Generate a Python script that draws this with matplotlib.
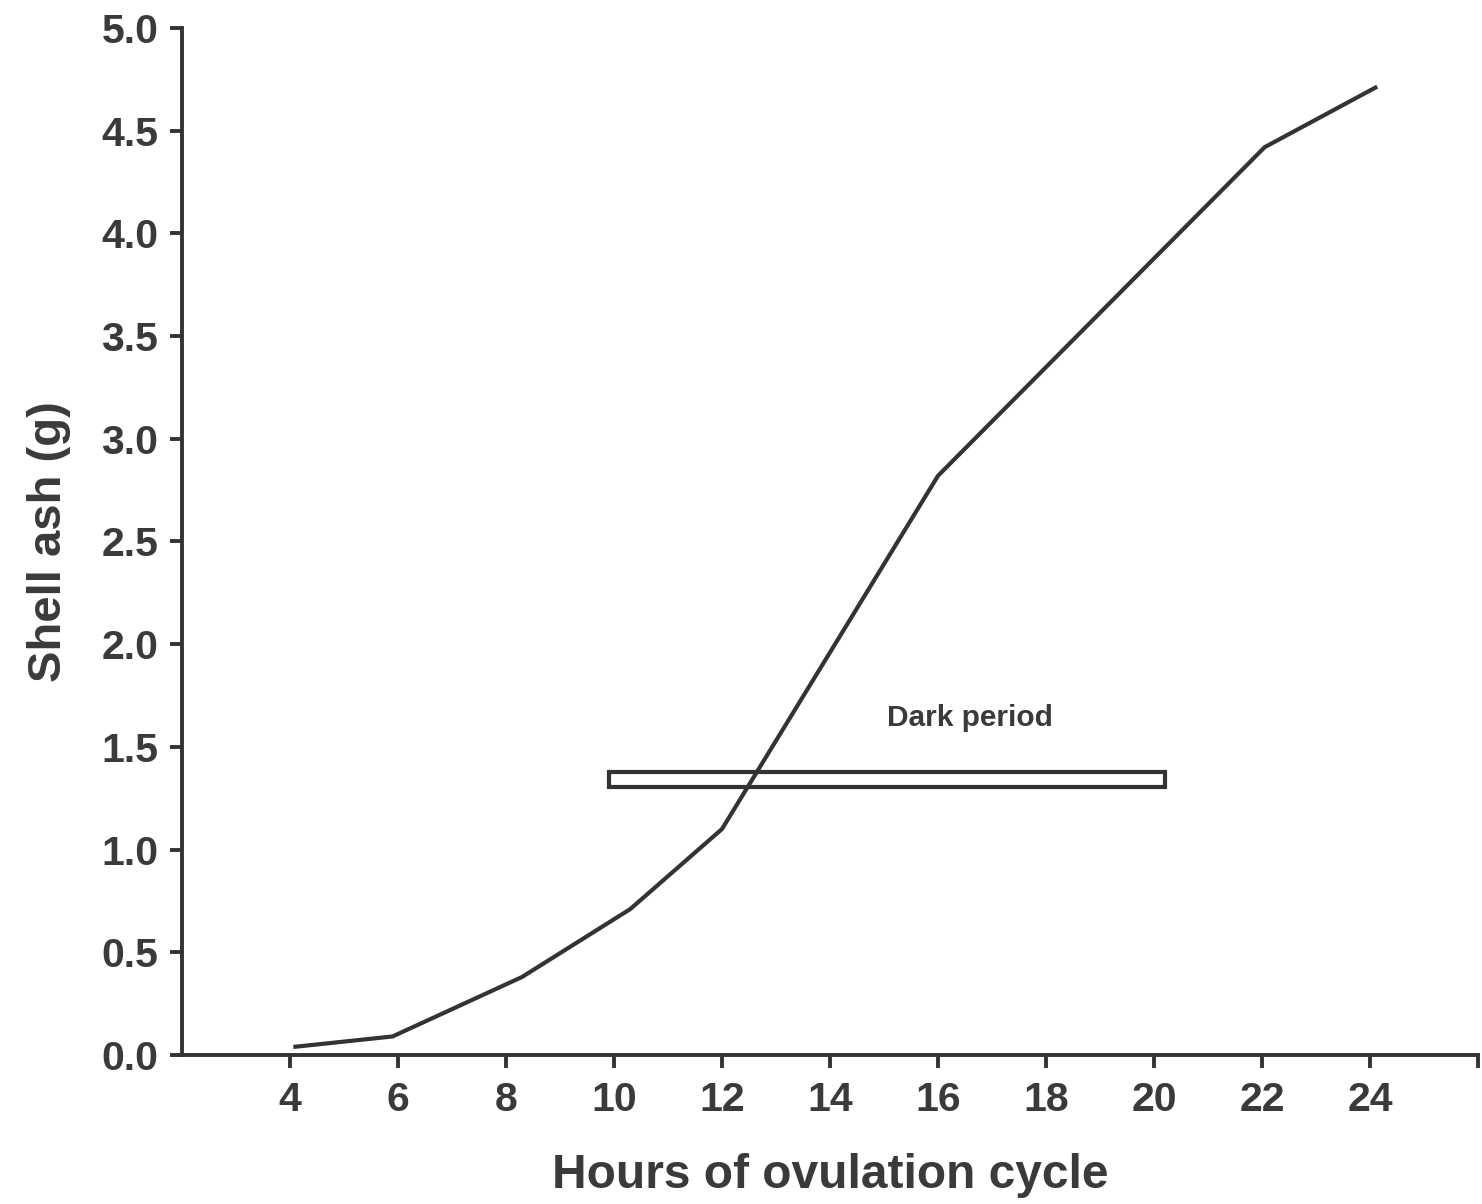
import matplotlib
matplotlib.use("Agg")
import matplotlib.pyplot as plt
from matplotlib.patches import Rectangle

# shell ash over the ovulation cycle
hours = [4.1, 5.9, 8.3, 10.3, 12.0, 16.0, 22.05, 24.1]
shell_ash = [0.04, 0.09, 0.38, 0.71, 1.10, 2.82, 4.42, 4.71]

x_ticks = [4, 6, 8, 10, 12, 14, 16, 18, 20, 22, 24, 26]
x_tick_labels = ["4", "6", "8", "10", "12", "14", "16", "18", "20", "22", "24", ""]
y_ticks = [0.0, 0.5, 1.0, 1.5, 2.0, 2.5, 3.0, 3.5, 4.0, 4.5, 5.0]

# dark period bar (hours, grams)
dark_start, dark_end = 9.9, 20.2
dark_low, dark_high = 1.305, 1.378

ink = "#333333"
plt.rcParams["font.family"] = ["Liberation Sans", "DejaVu Sans"]
plt.rcParams["font.weight"] = "bold"

fig = plt.figure(figsize=(14.82, 12.04), dpi=100)
ax = fig.add_axes([0.1228, 0.1238, 0.8745, 0.8529])

ax.plot(hours, shell_ash, color=ink, lw=3.0, solid_joinstyle="miter", zorder=3)

ax.add_patch(Rectangle((dark_start, dark_low), dark_end - dark_start, dark_high - dark_low,
                       fill=False, edgecolor=ink, lw=3.0, zorder=2))
ax.text(16.6, 1.64, "Dark period", ha="center", va="center", fontsize=21.5,
        color="#3a3a3a", fontweight="bold")

ax.set_xlim(2, 26)
ax.set_ylim(0, 5.0)
ax.set_xticks(x_ticks)
ax.set_xticklabels(x_tick_labels)
ax.set_yticks(y_ticks)
ax.set_yticklabels([f"{v:.1f}" for v in y_ticks])

for side in ["top", "right"]:
    ax.spines[side].set_visible(False)
for side in ["left", "bottom"]:
    ax.spines[side].set_color(ink)
    ax.spines[side].set_linewidth(2.8)

ax.tick_params(axis="both", direction="out", length=9, width=2.8, color=ink,
               labelsize=29.5, labelcolor="#3a3a3a", pad=8)
ax.tick_params(axis="x", pad=10)

ax.set_xlabel("Hours of ovulation cycle", fontsize=34.5, fontweight="bold",
              color="#3a3a3a", labelpad=24)
ax.set_ylabel("Shell ash (g)", fontsize=34, fontweight="bold",
              color="#3a3a3a", labelpad=22)

fig.savefig("out.png", dpi=100, facecolor="white")
